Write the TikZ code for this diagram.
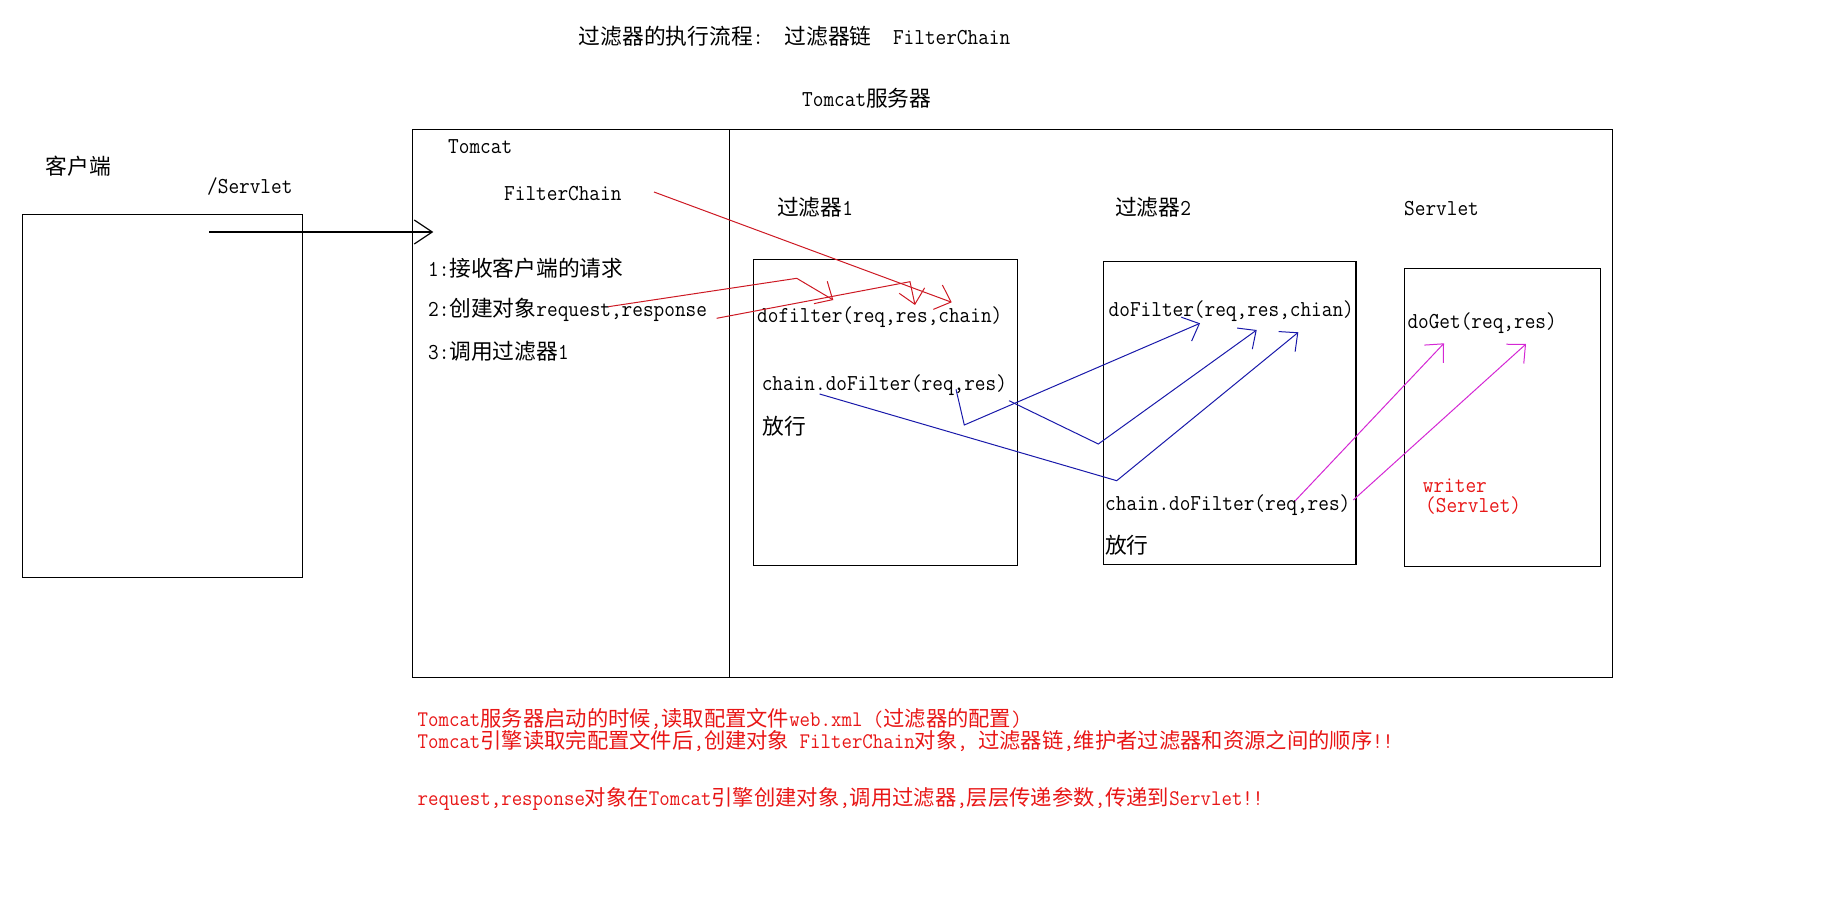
\documentclass[tikz,border=0pt]{standalone}
\usepackage{fontspec}
\setmonofont{Latin Modern Mono}[Scale=1.1,FakeStretch=0.909]
\newfontfamily\cjk[Scale=1.05]{Noto Sans CJK SC}
\usetikzlibrary{arrows.meta}
\definecolor{penred}{RGB}{205,25,35}
\definecolor{txtred}{RGB}{232,22,22}
\definecolor{penblue}{RGB}{25,25,170}
\definecolor{penpink}{RGB}{212,40,212}
\newcommand{\zh}[1]{{\cjk #1}}
\begin{document}
\begin{tikzpicture}[x=1pt,y=-1pt,
    lbl/.style={anchor=west,inner sep=0pt,font=\fontsize{20.7}{25}\selectfont\ttfamily},
    note/.style={lbl,text=txtred,font=\fontsize{20.3}{24}\selectfont\ttfamily},
    box/.style={draw,line width=1.2pt,inner sep=0pt},
    pen/.style={line width=1pt,-{Straight Barb[length=14pt,width=26pt]}}]
                 \useasboundingbox (0,0) rectangle (1848,912);
                 \node[lbl](tt)at(578.7,36){\zh{过滤器的执行流程}:~~\zh{过滤器链}~~FilterChain};
                 \node[lbl](srv)at(802,98.5){Tomcat\zh{服务器}};
                 \node[lbl](kh)at(45.6,166){\zh{客户端}};
                 \node[lbl](url)at(207,187){/Servlet};
                 \node[box,minimum width=279.9pt,minimum height=363.2pt](cl)at(162.4,395.9){};
                 \node[box,minimum width=1200pt,minimum height=548.1pt](tc)at(1012.3,403.7){};
                 \draw[line width=1.2pt] (729.5,129.6) -- (729.5,677.7);
                 \node[lbl](tm)at(448,147){Tomcat};
                 \node[lbl](fc)at(504,193.5){FilterChain};
                 \node[lbl](s1)at(428,268.3){1:\zh{接收客户端的请求}};
                 \node[lbl](s2)at(428,310){2:\zh{创建对象}request,response};
                 \node[lbl](s3)at(428,351.7){3:\zh{调用过滤器}1};
                 \node[lbl](h1)at(777,207.3){\zh{过滤器}1};
                 \node[box,minimum width=263.8pt,minimum height=306pt](f1)at(885.5,412.3){};
                 \node[lbl](d1)at(757,317.3){dofilter(req,res,chain)};
                 \node[lbl](c1)at(761.6,385){chain.doFilter(req,res)};
                 \node[lbl](p1)at(762.5,426){\zh{放行}};
                 \node[lbl](h2)at(1115,207){\zh{过滤器}2};
                 \node[box,minimum width=252.5pt,minimum height=302.8pt](f2)at(1229.8,412.9){};
                 \node[lbl](d2)at(1108.5,310.7){doFilter(req,res,chian)};
                 \node[lbl](c2)at(1105,505){chain.doFilter(req,res)};
                 \node[lbl](p2)at(1105,545){\zh{放行}};
                 \node[lbl](h3)at(1404,208.6){Servlet};
                 \node[box,minimum width=196.4pt,minimum height=298.4pt](sv)at(1502.5,417.5){};
                 \node[lbl](dg)at(1407.3,323.3){doGet(req,res)};
                 \node[lbl,text=txtred](wr)at(1422.7,486){writer};
                 \node[lbl,text=txtred](ws)at(1425,506){(Servlet)};
                 \node[note](n1)at(417.5,719){Tomcat\zh{服务器启动的时候},\zh{读取配置文件}web.xml~(\zh{过滤器的配置})};
                 \node[note](n2)at(417.5,741){Tomcat\zh{引擎读取完配置文件后},\zh{创建对象}~FilterChain\zh{对象},~\zh{过滤器链},\zh{维护者过滤器和资源之间的顺序}!!};
                 \node[note](n3)at(417.5,799){request,response\zh{对象在}Tomcat\zh{引擎创建对象},\zh{调用过滤器},\zh{层层传递参数},\zh{传递到}Servlet!!};
                 \coordinate(a0)at(209.3,232);
                 \coordinate(a1)at(433.3,232);
                 \draw[pen,line width=1.2pt,-{Straight Barb[length=18pt,width=24pt]}](a0)--(a1);
                 \coordinate(r0)at(654,192);
                 \coordinate(r1)at(951.7,302.3);
                 \draw[pen,penred](r0)--(r1);
                 \coordinate(q0)at(608.3,306.7);
                 \coordinate(q1)at(796.7,278.3);
                 \coordinate(q2)at(833.3,300);
                 \draw[pen,penred](q0)--(q1)--(q2);
                 \coordinate(u0)at(716.7,318.3);
                 \coordinate(u1)at(910,281.7);
                 \coordinate(u2)at(915,305);
                 \draw[pen,penred](u0)--(u1)--(u2);
                 \coordinate(b0)at(819.6,394);
                 \coordinate(b1)at(1116.7,480.7);
                 \coordinate(b2)at(1298.3,332.3);
                 \draw[pen,penblue](b0)--(b1)--(b2);
                 \coordinate(e0)at(1009,400.7);
                 \coordinate(e1)at(1098.3,444);
                 \coordinate(e2)at(1256.7,330);
                 \draw[pen,penblue](e0)--(e1)--(e2);
                 \coordinate(g0)at(956,389.3);
                 \coordinate(g1)at(964.3,425);
                 \coordinate(g2)at(1200,323.3);
                 \draw[pen,penblue](g0)--(g1)--(g2);
                 \coordinate(m0)at(1295,501);
                 \coordinate(m1)at(1444,343.3);
                 \draw[pen,penpink](m0)--(m1);
                 \coordinate(k0)at(1353.3,500);
                 \coordinate(k1)at(1526,344);
                 \draw[pen,penpink](k0)--(k1);
\end{tikzpicture}
\end{document}
